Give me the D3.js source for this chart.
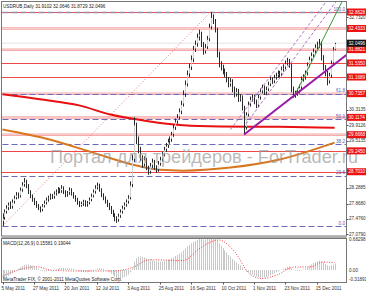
<!DOCTYPE html>
<html>
<head>
<meta charset="utf-8">
<script src="https://cdn.jsdelivr.net/npm/d3@7"></script>
<style>
body { margin: 0; background: #fff; }
svg { display: block; font-family: "Liberation Sans", Arial, sans-serif; }
</style>
</head>
<body>
<svg id="chart"></svg>
<script>
var screen = {width: 366, height: 293};
var plot = {left: 1.5, right: 346.5, top: 1.5, bottom: 236};
var macdBox = {top: 238.5, bottom: 282.5};

// daily bars, 5 May 2011 .. end of Dec 2011
var closes = [27.50,27.66,27.76,27.84,27.79,27.92,28.02,28.10,28.07,28.23,
28.36,28.44,28.34,28.18,28.07,27.97,27.89,27.81,27.76,27.71,
27.81,27.89,27.97,28.02,28.07,28.05,28.13,28.18,28.23,28.20,
28.28,28.18,28.10,28.15,28.23,28.13,28.05,27.97,27.89,27.84,
27.86,27.92,27.84,27.89,27.97,28.07,28.18,28.28,28.34,28.23,
28.10,28.02,27.92,27.84,27.76,27.66,27.58,27.47,27.45,27.55,
27.66,27.76,27.84,27.92,28.02,28.36,29.02,29.93,29.54,29.28,
29.07,28.89,29.02,28.81,28.70,28.86,28.96,28.81,28.75,28.91,
29.02,29.15,29.28,29.38,29.49,29.54,29.67,29.85,30.01,30.12,
30.27,30.46,30.72,30.98,31.24,31.42,31.63,31.89,32.03,32.21,
32.29,32.03,31.84,31.95,32.16,32.47,32.73,32.63,32.42,31.76,
31.50,31.42,31.32,31.24,31.11,30.98,31.06,30.85,30.72,30.80,
30.59,30.64,30.38,29.85,30.19,30.46,30.59,30.64,30.53,30.43,
30.64,30.80,30.90,30.77,30.85,30.98,31.11,31.06,31.16,31.21,
31.27,31.24,31.37,31.42,31.53,31.58,31.48,30.85,30.69,30.74,
30.80,30.90,31.11,31.16,31.27,31.48,31.63,31.74,31.84,31.95,
32.00,32.05,31.68,31.42,31.27,31.06,31.21,31.53,31.88,32.05];

var highs = [27.62,27.72,27.83,27.90,27.93,27.98,28.08,28.17,28.16,28.29,
28.43,28.54,28.49,28.38,28.22,28.11,28.02,27.94,27.86,27.80,
27.86,27.95,28.03,28.08,28.13,28.12,28.19,28.24,28.30,28.28,
28.35,28.32,28.22,28.20,28.29,28.27,28.17,28.09,28.02,27.94,
27.92,27.97,27.96,27.94,28.03,28.13,28.24,28.35,28.42,28.39,
28.27,28.14,28.06,27.97,27.89,27.81,27.71,27.62,27.54,27.61,
27.72,27.82,27.90,27.98,28.09,28.45,29.15,30.12,29.98,29.62,
29.35,29.13,29.10,29.06,28.86,28.93,29.04,29.01,28.87,28.98,
29.09,29.22,29.35,29.45,29.56,29.62,29.74,29.92,30.09,30.20,
30.35,30.55,30.82,31.08,31.34,31.52,31.73,31.98,32.12,32.30,
32.40,32.35,32.08,32.03,32.24,32.56,32.86,32.80,32.68,32.45,
31.83,31.58,31.49,31.39,31.30,31.17,31.14,31.11,30.92,30.88,
30.86,30.72,30.69,30.42,30.25,30.53,30.66,30.72,30.70,30.58,
30.70,30.87,30.97,30.95,30.92,31.05,31.18,31.16,31.23,31.28,
31.34,31.33,31.44,31.50,31.60,31.67,31.64,31.52,30.92,30.81,
30.87,30.97,31.18,31.24,31.34,31.55,31.70,31.81,31.91,32.02,
32.09,32.16,32.10,31.74,31.48,31.33,31.28,31.60,31.95,32.06];

var lows = [27.29,27.45,27.61,27.70,27.73,27.74,27.87,27.98,28.00,28.03,
28.18,28.31,28.27,28.12,28.01,27.92,27.83,27.76,27.70,27.64,
27.67,27.77,27.85,27.92,27.97,27.99,28.00,28.08,28.13,28.14,
28.15,28.12,28.04,28.05,28.10,28.08,28.00,27.92,27.84,27.78,
27.79,27.81,27.79,27.79,27.85,27.93,28.03,28.13,28.24,28.18,
28.04,27.96,27.87,27.78,27.70,27.60,27.52,27.41,27.37,27.40,
27.50,27.61,27.71,27.79,27.87,27.98,28.30,28.95,29.42,29.18,
28.98,28.80,28.84,28.74,28.62,28.65,28.80,28.75,28.68,28.70,
28.86,28.97,29.10,29.22,29.32,29.43,29.48,29.61,29.79,29.95,
30.06,30.20,30.40,30.65,30.92,31.17,31.35,31.56,31.82,31.96,
32.12,31.95,31.75,31.78,31.90,32.10,32.41,32.55,32.33,31.68,
31.42,31.34,31.24,31.16,31.03,30.90,30.92,30.77,30.64,30.66,
30.52,30.53,30.30,29.67,29.80,30.14,30.40,30.53,30.46,30.36,
30.38,30.58,30.74,30.70,30.71,30.80,30.93,30.99,31.01,31.10,
31.15,31.17,31.19,31.31,31.37,31.47,31.41,30.77,30.62,30.63,
30.68,30.74,30.85,31.05,31.10,31.21,31.42,31.57,31.68,31.78,
31.89,31.93,31.60,31.34,31.19,30.95,31.00,31.15,31.47,31.87];

var firstOpen = 27.40;

// MACD main (histogram) per bar
var macdMain = [-0.18,-0.17,-0.15,-0.13,-0.10,-0.07,-0.04,0.00,0.03,0.06,
0.09,0.11,0.12,0.12,0.11,0.09,0.07,0.05,0.02,-0.01,
-0.02,-0.03,-0.03,-0.02,-0.01,0.00,0.01,0.02,0.03,0.04,
0.05,0.05,0.04,0.04,0.04,0.03,0.02,0.01,-0.01,-0.03,
-0.04,-0.04,-0.05,-0.05,-0.04,-0.03,-0.01,0.01,0.03,0.04,
0.03,0.02,0.00,-0.02,-0.05,-0.08,-0.11,-0.14,-0.17,-0.18,
-0.18,-0.17,-0.15,-0.13,-0.10,-0.05,0.04,0.18,0.25,0.28,
0.29,0.28,0.27,0.25,0.23,0.22,0.21,0.19,0.18,0.18,
0.18,0.18,0.19,0.20,0.22,0.23,0.25,0.27,0.30,0.32,
0.35,0.38,0.42,0.46,0.50,0.54,0.57,0.60,0.62,0.64,
0.66,0.66,0.65,0.65,0.66,0.67,0.68,0.68,0.67,0.62,
0.57,0.52,0.47,0.42,0.37,0.32,0.28,0.24,0.20,0.16,
0.13,0.10,0.06,0.00,-0.03,-0.05,-0.08,-0.10,-0.12,-0.14,
-0.15,-0.16,-0.16,-0.16,-0.15,-0.13,-0.11,-0.09,-0.07,-0.05,
-0.03,-0.01,0.01,0.03,0.05,0.07,0.08,0.04,0.01,-0.01,
-0.02,-0.02,-0.01,0.01,0.03,0.06,0.09,0.12,0.15,0.17,
0.19,0.20,0.19,0.16,0.13,0.10,0.09,0.10,0.12,0.14];

// signal line, read at a few bars
var signalPts = [[0,-0.13],[17,0.07],[26,-0.01],[40,-0.02],[56,-0.02],[66,0.05],[75,0.22],
  [92,0.20],[100,0.45],[110,0.64],[118,0.40],[126,-0.09],[132,-0.18],[140,-0.10],
  [148,0.06],[157,0.07],[163,0.17],[169,0.16]];

// moving averages, read at a few bars
var redMA = [[0,30.72],[19,30.59],[39,30.43],[55,30.19],[75,30.01],[92,29.91],[111,29.88],[141,29.87],[169,29.85]];
var orangeMA = [[0,29.80],[24,29.54],[46,29.20],[66,28.89],[80,28.75],[92,28.73],[116,28.81],[141,29.02],[169,29.46]];

// horizontal levels
var redLevels = [32.8628, 31.5350, 31.1689, 29.2450, 28.7010];
var paleLevels = [32.4333, 31.8821, 30.7357, 30.1174, 29.6668];
var lastPrice = 32.0496;
var priceTicks = [32.7320, 30.3135, 29.9126, 29.5135, 28.2885, 27.8680, 27.4760, 27.0790];

// fibonacci
var fibFrom = [0, 27.287];
var fibTo = [106, 32.8628];
var fibLevels = [0.0, 23.6, 38.2, 50.0, 61.8, 100.0];

// trend lines
var trendLine = [[123, 29.67], [169, 31.50]];
var greenLine = [[148, 30.62], [173, 33.15]];
var channelLines = [[[116, 29.80], [165, 33.15]], [[124, 29.95], [170, 33.15]]];

var dateLabels = ["5 May 2011","27 May 2011","20 Jun 2011","12 Jul 2011","3 Aug 2011","25 Aug 2011",
  "16 Sep 2011","10 Oct 2011","1 Nov 2011","23 Nov 2011","15 Dec 2011"];
var dateBars = [0,16,32,48,64,80,96,112,128,144,160];

var macdTicks = [0.68298, 0.00, -0.31891];

var svg = d3.select("#chart")
  .attr("width", screen.width)
  .attr("height", screen.height);

var xScale = d3.scaleLinear().domain([0, 169]).range([2.5, 334.5]);
var yScale = d3.scaleLinear().domain([27.079, 32.8628]).range([234, 12]);
var mScale = d3.scaleLinear().domain([-0.31891, 0.68298]).range([285, 238]);

var defs = svg.append("defs");
defs.append("clipPath").attr("id", "mainClip")
  .append("rect").attr("x", plot.left).attr("y", plot.top)
  .attr("width", plot.right - plot.left).attr("height", plot.bottom - plot.top);
defs.append("clipPath").attr("id", "macdClip")
  .append("rect").attr("x", plot.left).attr("y", macdBox.top)
  .attr("width", plot.right - plot.left).attr("height", macdBox.bottom - macdBox.top);

var main = svg.append("g").attr("clip-path", "url(#mainClip)");

// levels
main.selectAll(".pale").data(paleLevels).enter().append("line")
  .attr("x1", plot.left).attr("x2", plot.right)
  .attr("y1", function(d) { return yScale(d); })
  .attr("y2", function(d) { return yScale(d); })
  .attr("stroke", "#f4a6a6").attr("stroke-width", 2.5);
main.selectAll(".paleIn").data(paleLevels).enter().append("line")
  .attr("x1", plot.left).attr("x2", plot.right)
  .attr("y1", function(d) { return yScale(d); })
  .attr("y2", function(d) { return yScale(d); })
  .attr("stroke", "#fbd8d8").attr("stroke-width", 0.8);
main.selectAll(".redl").data(redLevels).enter().append("line")
  .attr("x1", plot.left).attr("x2", plot.right)
  .attr("y1", function(d) { return Math.round(yScale(d)) + 0.5; })
  .attr("y2", function(d) { return Math.round(yScale(d)) + 0.5; })
  .attr("stroke", "#f04848").attr("stroke-width", 1);

main.append("line")
  .attr("x1", plot.left).attr("x2", plot.right)
  .attr("y1", yScale(lastPrice)).attr("y2", yScale(lastPrice))
  .attr("stroke", "#c8c8c8").attr("stroke-width", 1).attr("stroke-dasharray", "1,1");

// fibonacci levels
var fibPrice = function(f) { return fibFrom[1] + (fibTo[1] - fibFrom[1]) * f / 100; };
main.selectAll(".fib").data(fibLevels).enter().append("line")
  .attr("x1", xScale(fibFrom[0])).attr("x2", plot.right)
  .attr("y1", function(d) { return Math.round(yScale(fibPrice(d))) + 0.5; })
  .attr("y2", function(d) { return Math.round(yScale(fibPrice(d))) + 0.5; })
  .attr("stroke", function(d) { return d == 100 ? "#9a8aa8" : "#6a6ab8"; })
  .attr("stroke-width", function(d) { return d == 100 ? 1.5 : 1; })
  .attr("stroke-dasharray", "6,3");
main.selectAll(".fibt").data(fibLevels).enter().append("text")
  .attr("x", 345).attr("y", function(d) { return yScale(fibPrice(d)) - 1.5; })
  .attr("text-anchor", "end")
  .attr("font-size", 4.6).attr("fill", "#5a5ab0")
  .text(function(d) { return d.toFixed(1); });
main.append("line")
  .attr("x1", xScale(fibFrom[0])).attr("y1", yScale(fibFrom[1]))
  .attr("x2", xScale(fibTo[0])).attr("y2", yScale(fibTo[1]))
  .attr("stroke", "#f07070").attr("stroke-width", 1).attr("stroke-dasharray", "1,2");

// moving averages
var maLine = d3.line()
  .x(function(d) { return xScale(d[0]); })
  .y(function(d) { return yScale(d[1]); })
  .curve(d3.curveMonotoneX);
main.append("path").datum(orangeMA).attr("d", maLine)
  .attr("fill", "none").attr("stroke", "#d7771f").attr("stroke-width", 2);
main.append("path").datum(redMA).attr("d", maLine)
  .attr("fill", "none").attr("stroke", "#e81010").attr("stroke-width", 2);

// bars
var bars = closes.map(function(c, i) {
  return {i: i, o: i == 0 ? firstOpen : closes[i - 1], h: highs[i], l: lows[i], c: c};
});
main.selectAll(".wick").data(bars).enter().append("line")
  .attr("x1", function(d) { return Math.round(xScale(d.i)) + 0.5; })
  .attr("x2", function(d) { return Math.round(xScale(d.i)) + 0.5; })
  .attr("y1", function(d) { return yScale(d.h); })
  .attr("y2", function(d) { return yScale(d.l); })
  .attr("stroke", "#2a2a2a").attr("stroke-width", 1);
main.selectAll(".body").data(bars.filter(function(d) { return d.c > d.o; })).enter().append("line")
  .attr("x1", function(d) { return Math.round(xScale(d.i)) + 0.5; })
  .attr("x2", function(d) { return Math.round(xScale(d.i)) + 0.5; })
  .attr("y1", function(d) { return yScale(d.c) + 0.8; })
  .attr("y2", function(d) { return yScale(d.o) - 0.8; })
  .attr("stroke", "#d0d0d0").attr("stroke-width", 1);

// trend lines
var lineAt = function(pts) {
  return d3.line().x(function(d) { return xScale(d[0]); }).y(function(d) { return yScale(d[1]); })(pts);
};
channelLines.forEach(function(pts) {
  main.append("path").attr("d", lineAt(pts))
    .attr("fill", "none").attr("stroke", "#b070c8").attr("stroke-width", 1).attr("stroke-dasharray", "3,2");
});
main.append("path").attr("d", lineAt(greenLine))
  .attr("fill", "none").attr("stroke", "#3a9a3a").attr("stroke-width", 1);
var slope = (trendLine[1][1] - trendLine[0][1]) / (trendLine[1][0] - trendLine[0][0]);
main.append("path").attr("d", lineAt([trendLine[0], [176, trendLine[0][1] + slope * (176 - trendLine[0][0])]]))
  .attr("fill", "none").attr("stroke", "#9a1aa8").attr("stroke-width", 2);

// watermark
svg.append("text")
  .attr("x", 50).attr("y", 163)
  .attr("font-size", 18).attr("fill", "#9a9a9a").attr("fill-opacity", 0.7)
  .attr("textLength", 308).attr("lengthAdjust", "spacingAndGlyphs")
  .text("Портал для трейдеров - ForTrader.ru");

// title
svg.append("text").attr("x", 3).attr("y", 7.5)
  .attr("font-size", 4.6).attr("fill", "#222")
  .text("USDRUB,Daily  31.9102 32.0646 31.8729 32.0496");

// macd panel
var macd = svg.append("g").attr("clip-path", "url(#macdClip)");
macd.selectAll(".hist").data(macdMain).enter().append("line")
  .attr("x1", function(d, i) { return Math.round(xScale(i)) + 0.5; })
  .attr("x2", function(d, i) { return Math.round(xScale(i)) + 0.5; })
  .attr("y1", mScale(0))
  .attr("y2", function(d) { return mScale(d); })
  .attr("stroke", "#c8c8c8").attr("stroke-width", 1);
macd.append("path").datum(signalPts)
  .attr("d", d3.line().x(function(d) { return xScale(d[0]); }).y(function(d) { return mScale(d[1]); }).curve(d3.curveMonotoneX))
  .attr("fill", "none").attr("stroke", "#f04040").attr("stroke-width", 1).attr("stroke-dasharray", "1,1.5");

svg.append("text").attr("x", 3).attr("y", 245)
  .attr("font-size", 4.6).attr("fill", "#222")
  .text("MACD(12,26,9) 0.15581 0.19044");
svg.append("text").attr("x", 3).attr("y", 281)
  .attr("font-size", 4.6).attr("fill", "#222")
  .text("MetaTrader FIX, © 2001-2011 MetaQuotes Software Corp.");

// frames
svg.append("rect").attr("x", plot.left).attr("y", plot.top)
  .attr("width", plot.right - plot.left).attr("height", plot.bottom - plot.top)
  .attr("fill", "none").attr("stroke", "#777");
svg.append("rect").attr("x", plot.left).attr("y", macdBox.top)
  .attr("width", plot.right - plot.left).attr("height", macdBox.bottom - macdBox.top)
  .attr("fill", "none").attr("stroke", "#777");
svg.append("line").attr("x1", plot.left).attr("x2", plot.right)
  .attr("y1", 237.2).attr("y2", 237.2).attr("stroke", "#aaa").attr("stroke-width", 1.5);

// right price axis
var axisG = svg.append("g").attr("font-size", 4.6);
axisG.selectAll(".tk").data(priceTicks).enter().append("line")
  .attr("x1", plot.right).attr("x2", plot.right + 2)
  .attr("y1", function(d) { return Math.round(yScale(d)) + 0.5; })
  .attr("y2", function(d) { return Math.round(yScale(d)) + 0.5; })
  .attr("stroke", "#555");
axisG.selectAll(".tt").data(priceTicks).enter().append("text")
  .attr("x", plot.right + 2.5).attr("y", function(d) { return yScale(d) + 1.6; })
  .attr("fill", "#333")
  .text(function(d) { return d.toFixed(4); });

var boxes = redLevels.concat(paleLevels).map(function(v) { return {v: v, fill: "#ee1111"}; });
boxes.push({v: lastPrice, fill: "#111"});
var bx = axisG.selectAll(".bx").data(boxes).enter().append("g")
  .attr("transform", function(d) { return "translate(" + (plot.right + 0.5) + "," + (yScale(d.v) - 3.5) + ")"; });
bx.append("rect").attr("width", 19).attr("height", 7)
  .attr("fill", function(d) { return d.fill; });
bx.append("text").attr("x", 1.5).attr("y", 5.2).attr("fill", "#fff")
  .text(function(d) { return d.v.toFixed(4); });

axisG.selectAll(".mt").data(macdTicks).enter().append("text")
  .attr("x", plot.right + 2.5)
  .attr("y", function(d) { return d == 0.68298 ? 240.5 : (d == 0 ? mScale(d) + 1.6 : 281); })
  .attr("fill", "#333")
  .text(function(d) { return d == 0 ? "0.00" : d.toFixed(5); });

// date axis
var dates = svg.append("g").attr("font-size", 4.6).attr("fill", "#333");
dates.selectAll("line").data(dateBars).enter().append("line")
  .attr("x1", function(d) { return Math.round(xScale(d)) + 0.5; })
  .attr("x2", function(d) { return Math.round(xScale(d)) + 0.5; })
  .attr("y1", macdBox.bottom).attr("y2", macdBox.bottom + 2)
  .attr("stroke", "#555");
dates.selectAll("text").data(dateBars).enter().append("text")
  .attr("x", function(d) { return xScale(d) - 1; })
  .attr("y", 289.5)
  .text(function(d, i) { return dateLabels[i]; });
</script>
</body>
</html>
